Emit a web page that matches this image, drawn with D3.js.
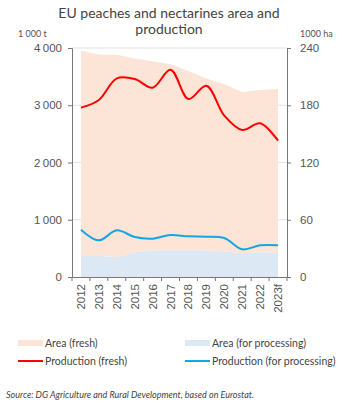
<!DOCTYPE html>
<html>
<head>
<meta charset="utf-8">
<script src="https://cdn.jsdelivr.net/npm/d3@7"></script>
<style>
  body { margin: 0; background: #fff; }
  svg { display: block; font-family: Lato, sans-serif; }
</style>
</head>
<body>
<svg></svg>
<script>
// years on the x axis
const years = ['2012', '2013', '2014', '2015', '2016', '2017', '2018', '2019', '2020', '2021', '2022', '2023f'];
// area in 1000 ha (right axis), stacked: processing at the bottom
const areaProcessing = [22, 22, 21, 26, 28, 28, 28, 28, 27, 25, 26, 26];
const areaFresh = [215, 211, 212, 203, 198, 195, 188, 180, 175, 169, 170, 171];
// production in 1000 t (left axis)
const prodFresh = [2958, 3092, 3470, 3459, 3307, 3622, 3109, 3342, 2818, 2568, 2684, 2381];
const prodProcessing = [827, 640, 815, 699, 670, 734, 710, 705, 681, 483, 553, 553];
const leftTicks = [0, 1000, 2000, 3000, 4000];
const rightTicks = [0, 60, 120, 180, 240];

const size = {w: 342, h: 411};
const plot = {l: 72, r: 287, t: 48, b: 277};
const colors = {fresh: '#fce4d6', proc: '#dce9f5', red: '#ff0000', blue: '#11a7e6'};

const svg = d3.select('svg')
    .attr('width', size.w)
    .attr('height', size.h);

// scales
const x = d3.scaleBand().domain(years).range([plot.l, plot.r]);
const xc = (d) => x(d) + x.bandwidth() / 2;
const yL = d3.scaleLinear().domain([0, 4000]).range([plot.b, plot.t]);
const yR = d3.scaleLinear().domain([0, 240]).range([plot.b, plot.t]);

const fmt = (v) => d3.format(',')(v).replace(',', '\u2009');

// gridlines
svg.append('g')
    .selectAll('line')
    .data(leftTicks.slice(1))
    .join('line')
    .attr('x1', plot.l).attr('x2', plot.r)
    .attr('y1', (d) => yL(d)).attr('y2', (d) => yL(d))
    .attr('stroke', '#e2e2e2');

// stacked area
const rows = years.map((y, i) => ({year: y, proc: areaProcessing[i], fresh: areaFresh[i]}));
const stack = d3.stack().keys(['proc', 'fresh'])(rows);
const area = d3.area()
    .x((d) => xc(d.data.year))
    .y0((d) => yR(d[0]))
    .y1((d) => yR(d[1]));
svg.append('g')
    .selectAll('path')
    .data(stack)
    .join('path')
    .attr('d', area)
    .attr('fill', (d) => d.key === 'proc' ? colors.proc : colors.fresh);

// production lines
const line = d3.line()
    .x((d, i) => xc(years[i]))
    .y((d) => yL(d))
    .curve(d3.curveCatmullRom.alpha(0.5));
svg.append('path')
    .attr('d', line(prodFresh))
    .attr('fill', 'none')
    .attr('stroke', colors.red)
    .attr('stroke-width', 2);
svg.append('path')
    .attr('d', line(prodProcessing))
    .attr('fill', 'none')
    .attr('stroke', colors.blue)
    .attr('stroke-width', 2);

// axes
function styleAxis(g) {
    g.selectAll('path, line').attr('stroke', '#777');
    g.selectAll('text').attr('fill', '#555').style('font-size', '11.5px');
}
svg.append('g')
    .attr('transform', 'translate(' + plot.l + ',0)')
    .call(d3.axisLeft(yL).tickValues(leftTicks).tickFormat(fmt).tickSizeOuter(4).tickSize(4).tickPadding(6))
    .call(styleAxis);
svg.append('g')
    .attr('transform', 'translate(' + plot.r + ',0)')
    .call(d3.axisRight(yR).tickValues(rightTicks).tickSizeOuter(4).tickSize(4).tickPadding(9))
    .call(styleAxis);

const xAxis = svg.append('g')
    .attr('transform', 'translate(0,' + plot.b + ')')
    .call(d3.axisBottom(x).tickSize(0).tickSizeOuter(0))
    .call(styleAxis);
xAxis.selectAll('text')
    .attr('transform', 'rotate(-90)')
    .attr('text-anchor', 'end')
    .attr('x', -7)
    .attr('y', 0)
    .attr('dy', '0.35em');
// ticks on the band edges
xAxis.selectAll('.edge')
    .data(years.map((d) => x(d)).concat([plot.r]))
    .join('line')
    .attr('class', 'edge')
    .attr('x1', (d) => d).attr('x2', (d) => d)
    .attr('y1', 0).attr('y2', 4)
    .attr('stroke', '#777');

// title and units
const title = svg.append('text')
    .attr('text-anchor', 'middle')
    .attr('fill', '#444')
    .style('font-size', '14px');
title.selectAll('tspan')
    .data(['EU peaches and nectarines area and', 'production'])
    .join('tspan')
    .attr('x', 169)
    .attr('y', (d, i) => 18 + i * 16)
    .text((d) => d);
svg.append('text')
    .attr('x', 18).attr('y', 37)
    .attr('fill', '#555')
    .style('font-size', '9px')
    .text('1 000 t');
svg.append('text')
    .attr('x', 300).attr('y', 37)
    .attr('fill', '#555')
    .style('font-size', '9px')
    .text('1000 ha');

// legend
const legend = [
    {label: 'Area (fresh)', type: 'rect', color: colors.fresh, x: 18, y: 343},
    {label: 'Area (for processing)', type: 'rect', color: colors.proc, x: 185, y: 343},
    {label: 'Production (fresh)', type: 'line', color: colors.red, x: 18, y: 361},
    {label: 'Production (for processing)', type: 'line', color: colors.blue, x: 185, y: 361}
];
const lg = svg.append('g')
    .selectAll('g')
    .data(legend)
    .join('g')
    .attr('transform', (d) => 'translate(' + d.x + ',' + d.y + ')');
lg.filter((d) => d.type === 'rect')
    .append('rect')
    .attr('x', 0).attr('y', -3)
    .attr('width', 25).attr('height', 6)
    .attr('fill', (d) => d.color);
lg.filter((d) => d.type === 'line')
    .append('line')
    .attr('x1', 0).attr('x2', 25)
    .attr('stroke', (d) => d.color)
    .attr('stroke-width', 2);
lg.append('text')
    .attr('x', 27)
    .attr('dy', '0.35em')
    .attr('fill', '#444')
    .style('font-size', '10.5px')
    .text((d) => d.label);

// source
svg.append('text')
    .attr('x', 6).attr('y', 398)
    .attr('fill', '#444')
    .style('font-size', '9px')
    .style('font-style', 'italic')
    .text('Source: DG Agriculture and Rural Development, based on Eurostat.');
</script>
</body>
</html>
